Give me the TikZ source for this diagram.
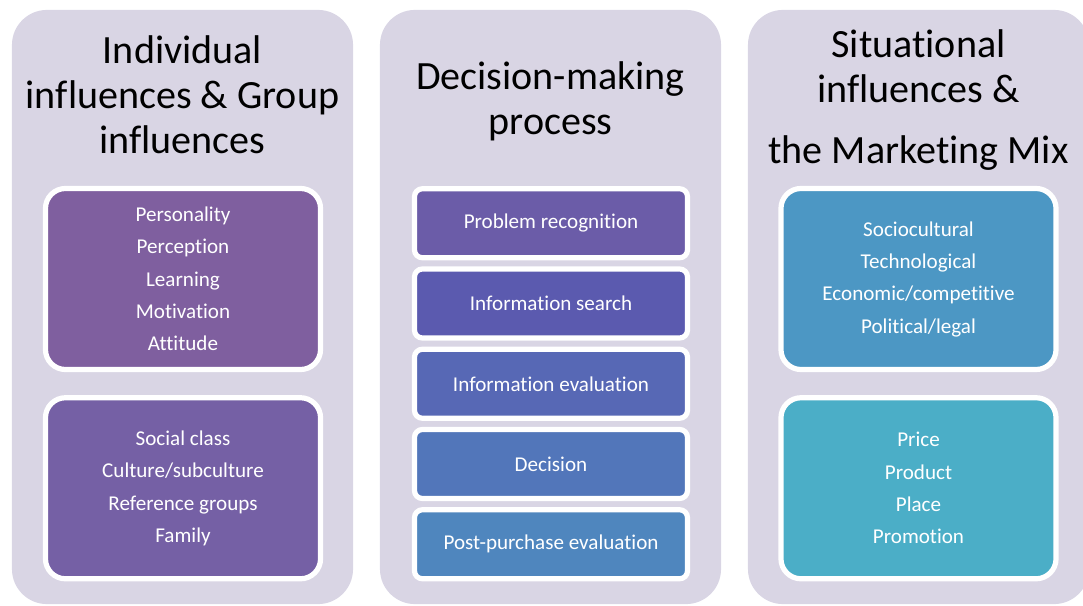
\documentclass[tikz,border=0pt]{standalone}
\usepackage{fontspec}
\setmainfont{Carlito}[Ligatures=NoCommon]
\usepackage{tikz}
\usetikzlibrary{positioning}

\definecolor{panelbg}{HTML}{D9D5E4}
\definecolor{indiv}{HTML}{7F5F9F}
\definecolor{group}{HTML}{7560A5}
\definecolor{stepA}{HTML}{6B5CA8}
\definecolor{stepB}{HTML}{5B5AAF}
\definecolor{stepC}{HTML}{5768B5}
\definecolor{stepD}{HTML}{5276BA}
\definecolor{stepE}{HTML}{4F86BE}
\definecolor{situ}{HTML}{4C97C4}
\definecolor{mix}{HTML}{4BAEC7}

\tikzset{
    panel/.style={fill=panelbg, rounded corners=0.875cm, minimum width=8.525cm, minimum height=14.85cm, inner sep=0pt},
    title/.style={anchor=north, align=center, inner sep=0pt, font=\fontsize{28.5}{32}\selectfont},
    listbox/.style={draw=white, line width=0.13cm, rounded corners=0.5cm, text=white, align=center,
        minimum width=6.875cm, minimum height=4.525cm, font=\fontsize{15}{23}\selectfont},
    stepbox/.style={draw=white, line width=0.13cm, rounded corners=0.2cm, text=white,
        minimum width=6.825cm, minimum height=1.725cm, font=\fontsize{15}{18}\selectfont}
}

\begin{document}
\begin{tikzpicture}[x=0.025cm, y=-0.025cm]
        \useasboundingbox (0,0) rectangle (1083,605);

        % three background panels
        \node[panel] at (182.5, 307) (left) {};
        \node[panel] at (550.5, 307) (mid) {};
        \node[panel] at (918.5, 307) (right) {};

        \node[title, below=0.65cm of left.north] (lefttitle) {Individual\\influences \& Group\\influences};
        \node[title, below=1.3cm of mid.north] (midtitle) {Decision-making\\process};
        \node[title, below=0.5cm of right.north] (righttitle) {Situational\\influences \&\\[0.4cm]the Marketing Mix};

        % individual and group influences
        \node[listbox, fill=indiv] at (183, 279) (indiv) {Personality\\Perception\\Learning\\Motivation\\Attitude};
        \node[listbox, fill=group, below=0.575cm of indiv] (group) {Social class\\Culture/subculture\\Reference groups\\Family};

        % decision-making steps
        \foreach \txt/\col [count=\i] in {Problem recognition/stepA, Information search/stepB,
                Information evaluation/stepC, Decision/stepD, Post-purchase evaluation/stepE} {
            \node[stepbox, fill=\col] at (551, 223.25+80.25*\i-80.25) (step\i) {\txt};
        }

        % situational influences and marketing mix
        \node[listbox, fill=situ] at (918.5, 279) (situ) {Sociocultural\\Technological\\Economic/competitive\\Political/legal};
        \node[listbox, fill=mix, below=0.575cm of situ] (mix) {Price\\Product\\Place\\Promotion};
    \end{tikzpicture}
\end{document}
